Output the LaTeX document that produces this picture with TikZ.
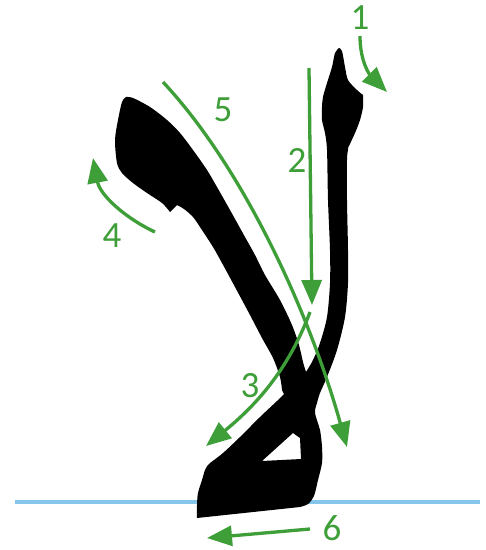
\documentclass[tikz,border=0pt]{standalone}
\usepackage{fontspec}
\setmainfont{Carlito}
\usetikzlibrary{arrows.meta}
\definecolor{grn}{RGB}{62,158,56}
\definecolor{baseblue}{RGB}{135,198,235}
\begin{document}
\begin{tikzpicture}[x=1pt,y=-1pt,
  stroke/.style={grn, line width=3.3pt, -{Triangle[length=25pt,width=20pt]}},
  lbl/.style={text=grn, font=\fontsize{37}{42}\selectfont, inner sep=0pt},
  ink/.style={fill=black, even odd rule}]
\useasboundingbox[fill=white] (0,0) rectangle (486,550);
% baseline
\draw[baseblue, line width=3.5pt] (15,502) coordinate (bl) -- (480,502) coordinate (br);
% letter lam-alif
\path[ink]
  plot[smooth] coordinates {(339,48) (342,51) (345,67) (348,80) (357,90) (363,95)}
  -- plot[smooth] coordinates {(363,95) (363,107) (360,120) (355,133) (348,148)}
  -- plot[smooth] coordinates {(348,150) (347,160) (347,200) (348,250) (348,283) (345,317) (337,350) (327,377) (320,393) (317,403) (315,413) (320,430) (322,447) (322,463) (318,480) (314,496) (308,504) (300,507)}
  -- (197,518)
  -- plot[smooth] coordinates {(197,518) (197,505) (198,493) (202,480) (205,470) (208,465)}
  -- plot[smooth] coordinates {(210,463) (223,453) (240,437) (260,417) (277,401) (284,394)}
  -- plot[smooth] coordinates {(282,390) (280,377) (273,358) (262,338) (250,315) (235,287) (222,263) (213,247) (200,227) (193,217) (184,209) (177,205)}
  -- (170,212)
  -- plot[smooth] coordinates {(170,212) (162,203) (147,193) (133,183) (122,173) (117,163) (115,140) (118,120) (122,102) (126,97)}
  -- plot[smooth] coordinates {(126,97) (133,98) (150,107) (167,120) (180,133) (193,150) (207,170) (217,187) (230,210) (245,237) (255,255) (265,275) (280,300) (292,325) (299,345) (303,362) (306,372)}
  -- plot[smooth] coordinates {(306,372) (313,360) (320,343) (327,317) (330,283) (330,250) (328,200) (327,150) (325,133) (322,120) (322,107) (323,97) (327,83) (332,67) (335,53) (339,48)}
  -- cycle
  (262,461) -- (293,433) -- (300,438) -- (301,459) -- cycle;
% labels
\node[lbl] (n1) at (360,18) {1};
\node[lbl] (n2) at (297,160) {2};
\node[lbl] (n3) at (250,386) {3};
\node[lbl] (n4) at (112,236) {4};
\node[lbl] (n5) at (223,110) {5};
\node[lbl] (n6) at (332,528) {6};
% stroke order arrows
\coordinate (a1s) at (360,36);  \coordinate (a1e) at (387,92);
\coordinate (a2s) at (309,68);  \coordinate (a2e) at (312,305);
\coordinate (a3s) at (310,312); \coordinate (a3e) at (206,446);
\coordinate (a4s) at (155,232); \coordinate (a4e) at (93,158);
\coordinate (a5s) at (163,82);  \coordinate (a5e) at (347,447);
\coordinate (a6s) at (310,529); \coordinate (a6e) at (207,538);
\draw[stroke] (a1s) .. controls (360,62) and (370,75) .. (a1e);
\draw[stroke] (a2s) -- (a2e);
\draw[stroke] (a3s) .. controls (292,360) and (265,398) .. (a3e);
\draw[stroke] (a4s) .. controls (125,218) and (100,195) .. (a4e);
\draw[stroke] (a5s) .. controls (245,170) and (310,315) .. (a5e);
\draw[stroke] (a6s) -- (a6e);
\end{tikzpicture}
\end{document}
